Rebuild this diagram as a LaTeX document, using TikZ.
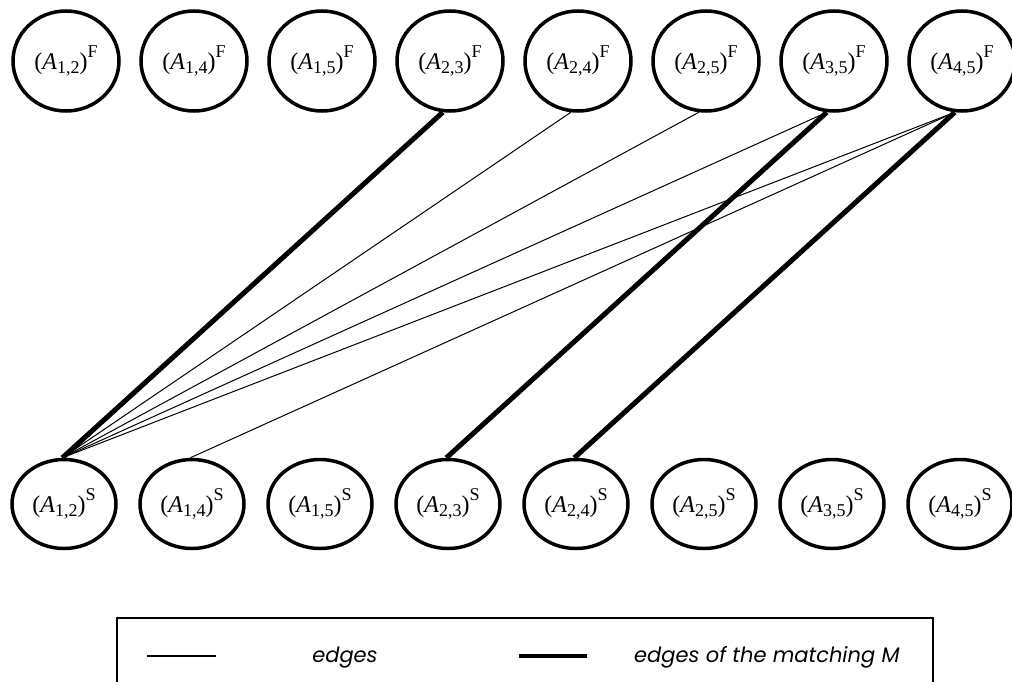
\documentclass[tikz,border=0pt]{standalone}
\usepackage{fontspec}
\setmainfont{Liberation Serif}
\newfontfamily\legendfont{Poppins}
\usetikzlibrary{shapes.geometric}
% (A_{i,j})^{X} set with text fonts
\newcommand\pairlabel[2]{(\textit{A}\raisebox{-3.5pt}{\fontsize{18}{18}\selectfont #1})\raisebox{12pt}{\fontsize{18}{18}\selectfont #2}}

\begin{document}
\begin{tikzpicture}[x=1pt,y=-1pt,
  vertex/.style={ellipse,draw,line width=3.5pt,inner sep=0pt,
    font=\fontsize{24}{24}\selectfont},
  topnode/.style={vertex,minimum width=106pt,minimum height=100pt},
  botnode/.style={vertex,minimum width=104pt,minimum height=89pt},
  plain/.style={line width=1pt},
  matched/.style={line width=5pt},
  legendtext/.style={font=\legendfont\itshape\fontsize{21}{21}\selectfont,inner sep=0pt},
]
\useasboundingbox (0,0) rectangle (1012,682);
\clip (0,0) rectangle (1012,682);

% the two rows of vertices
\foreach \a/\b [count=\i from 0] in {1/2,1/4,1/5,2/3,2/4,2/5,3/5,4/5}{
  \node[topnode] (f\a\b) at ({66+128*\i},61) {\pairlabel{\a,\b}{F}};
  \node[botnode] (s\a\b) at ({64+128*\i},504) {\pairlabel{\a,\b}{S}};
}

% ordinary edges
\draw[plain] (f24.262) -- (s12.92);
\draw[plain] (f25.262) -- (s12.92);
\draw[plain] (f35.262) -- (s12.92);
\draw[plain] (f45.262) -- (s12.92);
\draw[plain] (f45.262) -- (s14.92);

% edges of the matching
\draw[matched] (f23.262) -- (s12.92);
\draw[matched] (f35.262) -- (s23.92);
\draw[matched] (f45.262) -- (s24.92);

% legend
\draw[line width=2pt] (117,618) rectangle (933,700);
\coordinate (ta) at (147,656);
\coordinate (tb) at (216,656);
\draw[line width=1.5pt] (ta) -- (tb);
\node[legendtext,anchor=base] (la) at (345,662) {edges};
\coordinate (ma) at (519,656);
\coordinate (mb) at (587,656);
\draw[line width=4.5pt] (ma) -- (mb);
\node[legendtext,anchor=base west] (lb) at (634,662) {edges of the matching M};
\end{tikzpicture}
\end{document}
